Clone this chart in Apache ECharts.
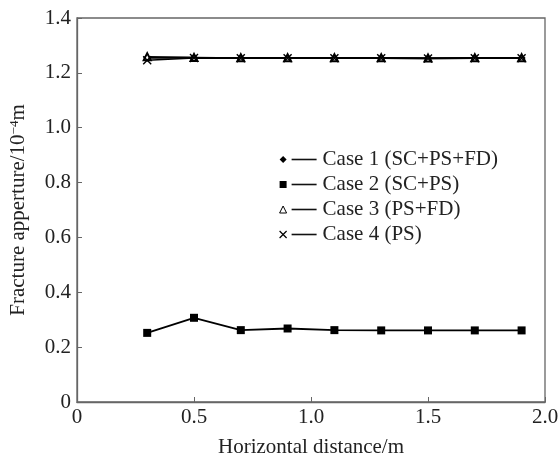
<!DOCTYPE html>
<html>
<head>
<meta charset="utf-8">
<script src="https://cdn.jsdelivr.net/npm/echarts@6/dist/echarts.min.js"></script>
<style>
  html, body { margin: 0; padding: 0; background: #fff; }
  #chart { width: 559px; height: 457px; }
</style>
</head>
<body>
<div id="chart"></div>
<script>
// horizontal distance (m)
var xDist = [0.3, 0.5, 0.7, 0.9, 1.1, 1.3, 1.5, 1.7, 1.9];
// fracture aperture, 10^-4 m
var case1 = [1.255, 1.255, 1.254, 1.254, 1.254, 1.254, 1.253, 1.254, 1.254];
var case2 = [0.252, 0.307, 0.262, 0.268, 0.262, 0.261, 0.261, 0.261, 0.261];
var case3 = [1.259, 1.256, 1.255, 1.255, 1.255, 1.255, 1.254, 1.255, 1.255];
var case4 = [1.246, 1.254, 1.253, 1.253, 1.253, 1.253, 1.252, 1.253, 1.253];
var caseNames = ['Case 1 (SC+PS+FD)', 'Case 2 (SC+PS)', 'Case 3 (PS+FD)', 'Case 4 (PS)'];
var xTicks = ['0', '0.5', '1.0', '1.5', '2.0'];

var crossPath = 'path://M0,0L10,10M10,0L0,10';
var font = '"Liberation Serif", "Times New Roman", serif';

function pairs(ys){
	var out = [];
	for (var i = 0; i < xDist.length; i++) {
		out.push([xDist[i], ys[i]]);
	}
	return out;
}

var chart = echarts.init(document.getElementById('chart'));

chart.setOption({
	backgroundColor: '#fff',
	animation: false,
	textStyle: { fontFamily: font, color: '#222' },
	grid: {
		left: 77, right: 14, top: 18, bottom: 55,
		outerBoundsMode: 'none',
		containLabel: false,
		show: true,
		borderColor: '#666',
		borderWidth: 1.3
	},
	legend: {
		orient: 'vertical',
		left: 274,
		top: 144,
		itemWidth: 7,
		itemHeight: 7,
		itemGap: 4,
		textStyle: {
			fontFamily: font,
			color: '#222',
			fontSize: 21,
			rich: {
				ln: { width: 25, height: 1.6, backgroundColor: '#111', verticalAlign: 'middle' },
				t: { fontFamily: font, fontSize: 21, color: '#222', padding: [0, 0, 0, 6] }
			}
		},
		formatter: function(name){
			return '{ln| }{t|' + name + '}';
		},
		data: [
			{ name: caseNames[0], icon: 'diamond', itemStyle: { color: '#000', borderWidth: 0 } },
			{ name: caseNames[1], icon: 'rect', itemStyle: { color: '#000', borderWidth: 0 } },
			{ name: caseNames[2], icon: 'triangle', itemStyle: { color: '#fff', borderColor: '#000', borderWidth: 1 } },
			{ name: caseNames[3], icon: crossPath, itemStyle: { color: '#000', borderColor: '#000', borderWidth: 1.2 } }
		]
	},
	xAxis: {
		type: 'value',
		min: 0,
		max: 2,
		interval: 0.5,
		name: 'Horizontal distance/m',
		nameLocation: 'middle',
		nameGap: 35,
		nameTextStyle: { fontFamily: font, fontSize: 21, color: '#222' },
		axisLine: { show: true, lineStyle: { color: '#666', width: 1.3 } },
		axisTick: { show: true, inside: true, length: 5, lineStyle: { color: '#666' } },
		axisLabel: {
			fontFamily: font, fontSize: 21, color: '#222', margin: 5,
			formatter: function(v){ return xTicks[Math.round(v / 0.5)]; }
		},
		splitLine: { show: false }
	},
	yAxis: {
		type: 'value',
		min: 0,
		max: 1.4,
		interval: 0.2,
		name: 'Fracture apperture/10{sup|−4}m',
		nameLocation: 'middle',
		nameGap: 48,
		nameTextStyle: {
			fontFamily: font, fontSize: 21, color: '#222',
			rich: { sup: { fontFamily: font, fontSize: 13, verticalAlign: 'top', lineHeight: 12, color: '#222' } }
		},
		axisLine: { show: true, lineStyle: { color: '#666', width: 1.3 } },
		axisTick: { show: true, inside: true, length: 5, lineStyle: { color: '#666' } },
		axisLabel: {
			fontFamily: font, fontSize: 21, color: '#222', margin: 6,
			formatter: function(v){ return v === 0 ? '0' : v.toFixed(1); }
		},
		splitLine: { show: false }
	},
	series: [{
		name: caseNames[0],
		type: 'line',
		data: pairs(case1),
		symbol: 'diamond',
		symbolSize: 8,
		lineStyle: { color: '#000', width: 1.8 },
		itemStyle: { color: '#000', borderWidth: 0 }
	},{
		name: caseNames[1],
		type: 'line',
		data: pairs(case2),
		symbol: 'rect',
		symbolSize: 8,
		lineStyle: { color: '#000', width: 1.8 },
		itemStyle: { color: '#000', borderWidth: 0 }
	},{
		name: caseNames[2],
		type: 'line',
		data: pairs(case3),
		symbol: 'emptyTriangle',
		symbolSize: 7,
		lineStyle: { color: '#000', width: 1.5 },
		itemStyle: { color: '#000', borderColor: '#000', borderWidth: 1 }
	},{
		name: caseNames[3],
		type: 'line',
		data: pairs(case4),
		symbol: crossPath,
		symbolSize: 8,
		lineStyle: { color: '#000', width: 1.5 },
		itemStyle: { color: '#000', borderColor: '#000', borderWidth: 1.4 }
	}]
});
</script>
</body>
</html>
